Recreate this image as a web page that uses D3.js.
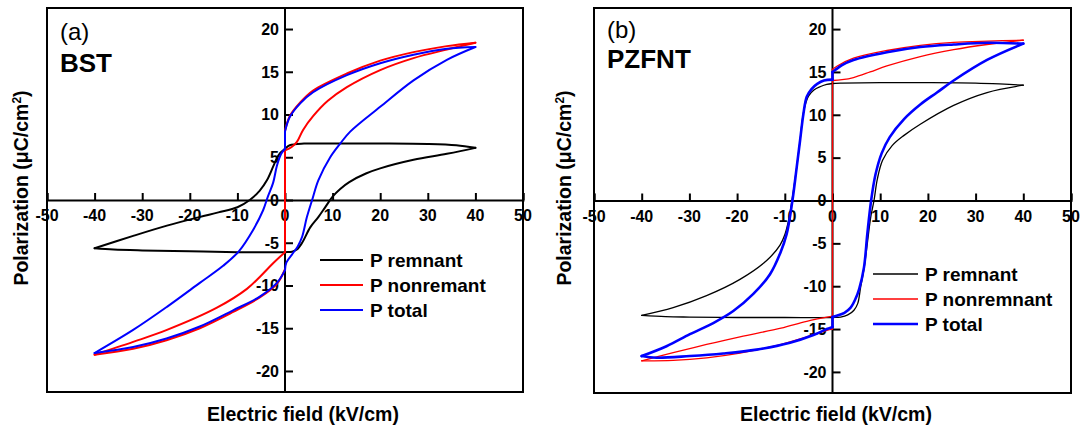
<!DOCTYPE html>
<html>
<head>
<meta charset="utf-8">
<script src="https://cdn.jsdelivr.net/npm/d3@7"></script>
<style>
  body { margin: 0; background: #fff; }
  svg { display: block; font-family: "Liberation Sans", Arial, sans-serif; }
</style>
</head>
<body>
<svg id="chart" width="1081" height="428"></svg>
<script>
// ---------------- data ----------------
const xTicks = [-50, -40, -30, -20, -10, 0, 10, 20, 30, 40, 50];
const yTicks = [-20, -15, -10, -5, 0, 5, 10, 15, 20];
const xDomain = [-50, 50];
const yDomain = [-22.46, 22.46];

const panelLetters = ["(a)", "(b)"];
const panelNames = ["BST", "PZFNT"];
const legendA = ["P remnant", "P nonremant", "P total"];
const legendB = ["P remnant", "P nonremnant", "P total"];
const seriesColors = ["#000000", "#ff0000", "#0000ff"];
const xTitle = "Electric field (kV/cm)";

// BST (panel a) — each series is a list of branches of [E, P]
const bstRemnant = [
  [[40,6.1],[36,6.4],[30,6.55],[20,6.6],[10,6.6],[4,6.6],[1,6.4],[0,6.0],[-1,5.5],[-1.8,4.8],[-2.5,3.9],[-3.8,2.3],[-5.3,1.1],[-7.4,0],[-10,-0.85],[-14,-1.45],[-18,-2.0],[-24.8,-3.0],[-31.9,-4.2],[-40,-5.65]],
  [[-40,-5.65],[-36,-5.8],[-30,-5.9],[-20,-6.0],[-10,-6.1],[0,-6.1],[1.5,-6.05],[2.5,-5.8],[3.6,-5.0],[5.3,-3.2],[7,-2.0],[8.5,-0.8],[10,0.4],[11.6,1.3],[13.5,2.1],[17,3.1],[20,3.7],[27,4.7],[34,5.4],[40,6.1]]
];
const bstNonremnant = [
  [[0,5.8],[1.4,6.2],[2.5,6.8],[3.8,8.2],[5.9,9.8],[9,11.6],[13,13.2],[20,15.2],[27,16.6],[34,17.6],[40,18.4]],
  [[40,18.4],[34,18.0],[27,17.3],[20,16.3],[13,14.8],[5.9,12.8],[3.2,11.4],[1,9.8],[0,8.1]],
  [[0,5.8],[0,-6.1]],
  [[0,-6.1],[-2.5,-7.4],[-5.3,-9],[-8,-10.4],[-14.3,-12.6],[-24.8,-15.2],[-31.9,-16.6],[-40,-18.1]],
  [[-40,-18.1],[-31.9,-17.4],[-24.9,-16.4],[-17.9,-15.0],[-10.9,-13.1],[-5.3,-11.4],[-1.7,-9.8],[0,-8.1]]
];
const bstTotal = [
  [[40,17.9],[34,17.7],[27,17.0],[20,16.0],[13,14.6],[5.9,12.6],[3.2,11.3],[1,9.7],[0,8.0]],
  [[0,8.0],[0,6.0]],
  [[0,6.0],[-0.8,5.4],[-1.7,4.0],[-2.5,2.0],[-3.6,0.4],[-4.6,-1.2],[-6.7,-3.5],[-9.7,-6.0],[-13,-7.7],[-17.9,-9.7],[-24.8,-12.5],[-31.9,-15.2],[-40,-17.9]],
  [[-40,-17.9],[-31.9,-17.2],[-24.9,-16.2],[-17.9,-14.8],[-10.9,-12.9],[-5.3,-11.3],[-1.7,-9.7],[0,-8.2]],
  [[0,-8.2],[0.3,-7.3],[1.7,-6.2],[2.7,-5.4],[3.6,-4.3],[4.6,-2.0],[5.7,0],[7,2.3],[9.5,5.0],[11.6,6.6],[13.7,8.0],[20,10.9],[27,14.0],[34,16.4],[40,17.9]]
];

// PZFNT (panel b)
const pzfntRemnant = [
  [[40,13.45],[35,13.6],[30,13.7],[20,13.75],[10,13.75],[2,13.7],[0,13.65],[-1.2,13.55],[-2.5,13.3],[-3.9,12.9],[-5.0,12.2],[-5.8,11],[-6.3,9.5],[-6.8,7],[-7.5,3.9],[-8.5,0],[-9.2,-2.3],[-10,-4],[-11,-5.2],[-13.8,-7],[-19.4,-9.2],[-26.4,-11.1],[-33.4,-12.5],[-40,-13.4]],
  [[-40,-13.4],[-35,-13.55],[-30,-13.6],[-20,-13.65],[-10,-13.65],[0,-13.65],[1.7,-13.6],[3.2,-13.35],[4.5,-12.8],[5.3,-12],[5.9,-10.1],[6.6,-8],[7.3,-5],[8,-2],[8.7,0],[9.4,2.5],[10.5,4.7],[12.5,6.4],[15,7.6],[18.4,8.9],[25.4,11.1],[32.4,12.6],[40,13.45]]
];
const pzfntNonremnant = [
  [[0,-15],[0,15.3]],
  [[0,14.0],[2,14.1],[4.4,14.35],[7.9,15.0],[11.4,15.7],[18.4,16.8],[25.4,17.6],[32.4,18.2],[40,18.7]],
  [[40,18.7],[32.6,18.6],[25.4,18.45],[18.4,18.1],[11.4,17.5],[4.4,16.6],[1,15.7],[0,15.3]],
  [[0,-13.5],[-5.4,-14.1],[-10.8,-14.9],[-19.4,-15.9],[-26.4,-16.8],[-33.4,-17.75],[-40,-18.7]],
  [[-40,-18.7],[-33.4,-18.65],[-26.4,-18.35],[-19.4,-17.8],[-12.3,-17.0],[-5.4,-15.9],[-1.2,-15.15],[0,-15]]
];
const pzfntTotal = [
  [[40,18.3],[32.6,18.4],[25.4,18.2],[18.4,17.9],[11.4,17.3],[4.4,16.4],[2,15.8],[0.5,15.2],[0,15.0]],
  [[0,15.0],[0,14.1]],
  [[0,14.1],[-1.8,14.0],[-3.2,13.6],[-4.4,13.0],[-5.4,12.1],[-6.1,10.1],[-6.8,7],[-7.5,3.9],[-8.4,0],[-9.6,-3.9],[-11,-6.2],[-13.1,-8.6],[-16.6,-10.9],[-20.8,-12.9],[-25,-14.3],[-29.9,-15.6],[-34.8,-17],[-40,-18.15]],
  [[-40,-18.15],[-36.9,-18.35],[-29.9,-18.15],[-22.9,-17.85],[-15.9,-17.4],[-8.9,-16.6],[-4,-15.7],[-1.2,-15.0],[0,-14.75]],
  [[0,-14.75],[0,-13.6]],
  [[0,-13.6],[0.9,-13.45],[2.5,-13.1],[3.8,-12.5],[4.8,-11.5],[5.6,-10.3],[6.6,-7.8],[7.3,-3.9],[8.1,0],[9.0,3.0],[10.3,5.5],[12,7.4],[15,9.5],[18.4,11.2],[21.9,12.6],[25.4,14],[32.4,16.4],[40,18.3]]
];

// ---------------- drawing ----------------
const svg = d3.select("#chart");
svg.append("rect").attr("width", 1081).attr("height", 428).attr("fill", "#fff");

const panels = [
  { left: 47, right: 523, top: 8, bottom: 392, letter: panelLetters[0], name: panelNames[0],
    nameY: 72, letterY: 40, textX: 60,
    series: [bstRemnant, bstNonremnant, bstTotal], widths: [2, 2, 2],
    legend: legendA, legX: 320, legY: 260, legLen: 43, ytitleX: 21, xtitleX: 303 },
  { left: 594, right: 1071, top: 8, bottom: 393, letter: panelLetters[1], name: panelNames[1],
    nameY: 68, letterY: 38, textX: 607,
    series: [pzfntRemnant, pzfntNonremnant, pzfntTotal], widths: [1.3, 1.3, 2.6],
    legend: legendB, legX: 873, legY: 274, legLen: 45, ytitleX: 564, xtitleX: 836 }
];

panels.forEach(p => {
  const x = d3.scaleLinear().domain(xDomain).range([p.left, p.right]);
  const y = d3.scaleLinear().domain(yDomain).range([p.bottom, p.top]);
  const g = svg.append("g");

  // frame
  g.append("rect").attr("x", p.left).attr("y", p.top)
    .attr("width", p.right - p.left).attr("height", p.bottom - p.top)
    .attr("fill", "none").attr("stroke", "#000").attr("stroke-width", 2);

  // x axis through y=0
  const xAxis = d3.axisTop(x).tickValues(xTicks).tickSize(7).tickFormat("");
  const xa = g.append("g").attr("transform", `translate(0,${y(0)})`).call(xAxis);
  xa.select(".domain").attr("stroke", "#000").attr("stroke-width", 2);
  xa.selectAll(".tick line").attr("stroke", "#000").attr("stroke-width", 2);
  g.selectAll(".xlab").data(xTicks).enter().append("text")
    .attr("x", d => x(d)).attr("y", y(0) + 21)
    .attr("text-anchor", "middle").attr("font-size", 16).attr("font-weight", "bold")
    .text(d => d);

  // y axis through x=0
  const yAxis = d3.axisRight(y).tickValues(yTicks).tickSize(8).tickFormat("");
  const ya = g.append("g").attr("transform", `translate(${x(0)},0)`).call(yAxis);
  ya.select(".domain").remove();
  g.append("line").attr("x1", x(0)).attr("x2", x(0)).attr("y1", p.top).attr("y2", p.bottom)
    .attr("stroke", "#000").attr("stroke-width", 2);
  ya.selectAll(".tick line").attr("stroke", "#000").attr("stroke-width", 2);
  g.selectAll(".ylab").data(yTicks).enter().append("text")
    .attr("x", x(0) - 6).attr("y", d => y(d)).attr("dy", "0.36em")
    .attr("text-anchor", "end").attr("font-size", 16).attr("font-weight", "bold")
    .text(d => d);

  // series
  const line = d3.line().x(d => x(d[0])).y(d => y(d[1])).curve(d3.curveCatmullRom.alpha(0.5));
  p.series.forEach((branches, i) => {
    branches.forEach(b => {
      g.append("path").attr("d", line(b)).attr("fill", "none")
        .attr("stroke", seriesColors[i]).attr("stroke-width", p.widths[i])
        .attr("stroke-linejoin", "round").attr("stroke-linecap", "round");
    });
  });

  // panel labels
  g.append("text").attr("x", p.textX).attr("y", p.letterY).attr("font-size", 24).text(p.letter);
  g.append("text").attr("x", p.textX).attr("y", p.nameY).attr("font-size", 26)
    .attr("font-weight", "bold").text(p.name);

  // legend
  p.legend.forEach((lab, i) => {
    const ly = p.legY + i * 25;
    g.append("line").attr("x1", p.legX).attr("x2", p.legX + p.legLen)
      .attr("y1", ly).attr("y2", ly).attr("stroke", seriesColors[i]).attr("stroke-width", p.widths[i]);
    g.append("text").attr("x", p.legX + p.legLen + 7).attr("y", ly).attr("dy", "0.36em")
      .attr("font-size", 19).attr("font-weight", "bold").text(lab);
  });

  // axis titles
  g.append("text").attr("x", p.xtitleX).attr("y", 421).attr("text-anchor", "middle")
    .attr("font-size", 19.5).attr("font-weight", "bold").text(xTitle);
  const yt = g.append("text").attr("transform", `translate(${p.ytitleX + 7},188) rotate(-90)`)
    .attr("text-anchor", "middle").attr("font-size", 19.5).attr("font-weight", "bold");
  yt.append("tspan").text("Polarization (\u03BCC/cm");
  yt.append("tspan").attr("dy", -7).attr("font-size", 12).text("2");
  yt.append("tspan").attr("dy", 7).text(")");
});
</script>
</body>
</html>
